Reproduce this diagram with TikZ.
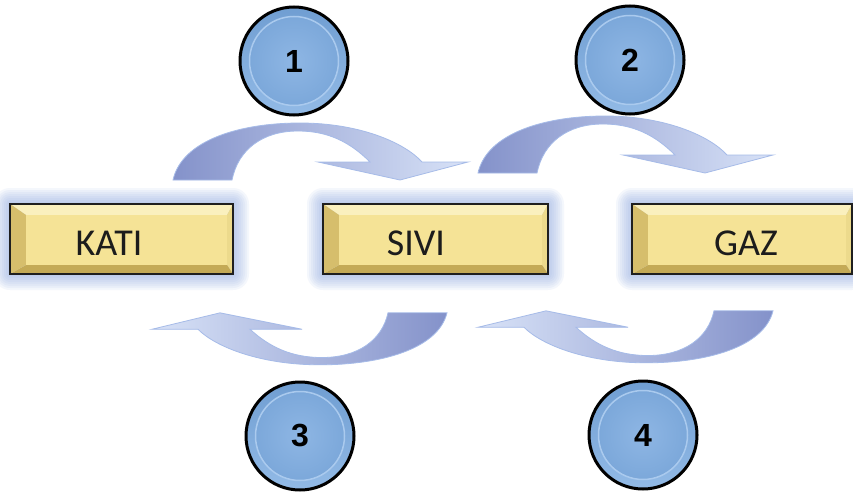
\documentclass[tikz,border=0pt]{standalone}
\usepackage{fontspec}
\setmainfont{Carlito}
\newfontfamily\numfont{Liberation Sans}
\definecolor{arrdark}{RGB}{132,146,202}
\definecolor{arrlight}{RGB}{216,226,247}
\definecolor{arredge}{RGB}{166,187,232}
\definecolor{glowc}{RGB}{140,168,225}
\definecolor{bevtop}{RGB}{250,240,190}
\definecolor{bevleft}{RGB}{214,190,108}
\definecolor{bevbot}{RGB}{196,170,86}
\definecolor{bevright}{RGB}{236,218,140}
\definecolor{facec}{RGB}{245,227,150}
\definecolor{textc}{RGB}{28,28,28}
\definecolor{rimtop}{RGB}{112,158,210}
\definecolor{rimbot}{RGB}{146,186,230}
\definecolor{discin}{RGB}{142,182,228}
\definecolor{discout}{RGB}{124,168,218}
\definecolor{dischi}{RGB}{170,202,238}
\tikzset{
  arrowbody/.style={draw=arredge, line width=0.8pt},
  boxtext/.style={anchor=base, inner sep=0pt, text=textc, font=\fontsize{38}{40}\selectfont},
  boxframe/.style={draw=black!88, line width=2.5pt, inner sep=0pt, minimum height=70pt},
  numcirc/.style={circle, draw=black, line width=3pt, minimum size=108pt, inner sep=0pt,
    font=\numfont\bfseries\fontsize{32}{34}\selectfont}
}
% #1 x offset, #2 x sign, #3 y offset, #4 y factor, #5 left colour, #6 right colour
\newcommand\curvarrow[6]{%
  \shadedraw[arrowbody, left color=#5, right color=#6]
    ({#1+#2*173},{#3+#4*180}) .. controls ({#1+#2*182},{#3+#4*140}) and ({#1+#2*240},{#3+#4*123}) .. ({#1+#2*300},{#3+#4*123})
    .. controls ({#1+#2*360},{#3+#4*123}) and ({#1+#2*405},{#3+#4*143}) .. ({#1+#2*422},{#3+#4*162})
    -- ({#1+#2*468},{#3+#4*162}) -- ({#1+#2*400},{#3+#4*180}) -- ({#1+#2*318},{#3+#4*162}) -- ({#1+#2*370},{#3+#4*162})
    .. controls ({#1+#2*350},{#3+#4*142}) and ({#1+#2*328},{#3+#4*131}) .. ({#1+#2*298},{#3+#4*131})
    .. controls ({#1+#2*262},{#3+#4*131}) and ({#1+#2*238},{#3+#4*150}) .. ({#1+#2*232},{#3+#4*180}) -- cycle;
}
\newcommand\bevbox[6]{%
  \foreach \g in {16,14,...,2}{
    \fill[glowc, opacity=0.09, rounded corners=\g pt] ({#2-\g},{204-\g}) rectangle ({#3+\g},{274+\g});
  }
  \fill[bevtop] (#2,204) -- (#3,204) -- ({#3-6},215) -- ({#2+16},215) -- cycle;
  \fill[bevright] (#3,204) -- (#3,274) -- ({#3-6},265) -- ({#3-6},215) -- cycle;
  \fill[bevbot] (#3,274) -- (#2,274) -- ({#2+16},265) -- ({#3-6},265) -- cycle;
  \fill[bevleft] (#2,274) -- (#2,204) -- ({#2+16},215) -- ({#2+16},265) -- cycle;
  \fill[facec] ({#2+16},215) rectangle ({#3-6},265);
  \node (#1) [boxframe, minimum width={#3-#2}] at ({(#2+#3)/2},239) {};
  \node (#6) [boxtext] at (#5,255) {#4};
}
\newcommand\numcircle[4]{%
  \shade[top color=rimtop, bottom color=rimbot] (#2,#3) circle (53);
  \shade[inner color=discin, outer color=discout] (#2,#3) circle (44);
  \draw[dischi, line width=1.5pt] (#2,#3) circle (44.5);
  \node (#1) [numcirc] at (#2,#3) {#4};
}
\begin{document}
\begin{tikzpicture}[x=1pt,y=-1pt]
\useasboundingbox (0,0) rectangle (853,492);
\fill[white] (0,0) rectangle (853,492);
% boxes with glow
\bevbox{kati}{10}{233}{KATI}{109}{katitext}
\bevbox{sivi}{323}{548}{SIVI}{416}{sivitext}
\bevbox{gaz}{632}{852}{GAZ}{746}{gaztext}
% curved arrows
\curvarrow{0}{1}{0}{1}{arrdark}{arrlight}
\curvarrow{305}{1}{-7}{1}{arrdark}{arrlight}
\curvarrow{620}{-1}{477}{-0.912}{arrlight}{arrdark}
\curvarrow{946}{-1}{475}{-0.912}{arrlight}{arrdark}
% numbered circles
\numcircle{c1}{294}{61}{1}
\numcircle{c2}{630}{60}{2}
\numcircle{c3}{300}{436}{3}
\numcircle{c4}{643}{435}{4}
\end{tikzpicture}
\end{document}
